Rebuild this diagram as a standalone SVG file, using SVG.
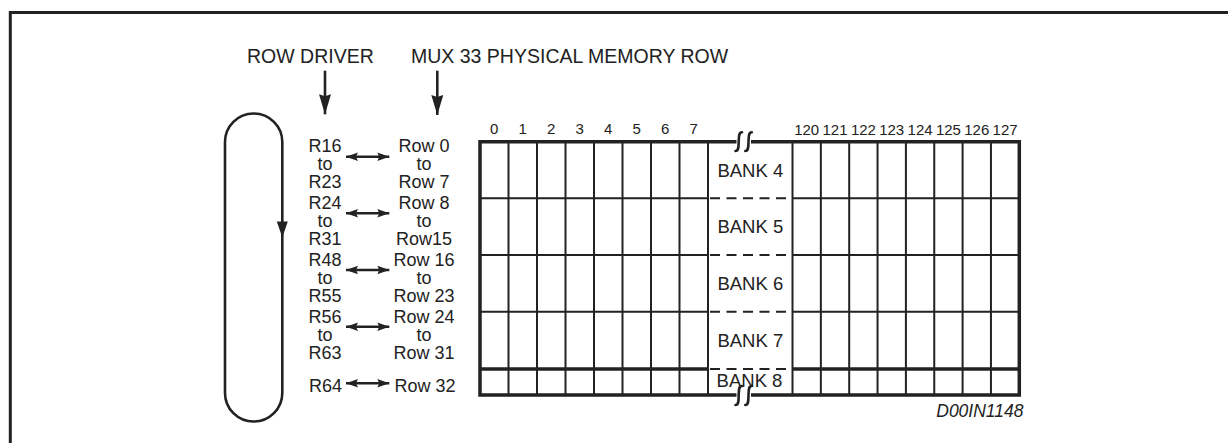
<svg xmlns="http://www.w3.org/2000/svg" width="1228" height="443" viewBox="0 0 1228 443">
<style>
text{font-family:"Liberation Sans",Arial,sans-serif;fill:#222}
.t{font-size:19.5px}
.r{font-size:18px;text-anchor:middle}
.n{font-size:15px;text-anchor:middle}
.b{font-size:18.5px;text-anchor:middle}
.id{font-size:17.5px;font-style:italic;text-anchor:end}
.ln{stroke:#222;fill:none}
.g{stroke:#222;stroke-width:2;fill:none}
.k{stroke:#222;stroke-width:3.5;fill:none}
.d{stroke:#222;stroke-width:2;fill:none;stroke-dasharray:10 6.5}
.brk{stroke:#222;stroke-width:2.6;fill:none;stroke-linecap:round}
</style>
<defs>
<marker id="dh" markerUnits="userSpaceOnUse" markerWidth="13" markerHeight="9" refX="12" refY="4.25" orient="auto-start-reverse">
<path d="M0,0 L12,4.25 L0,8.5 L2,4.25 z" fill="#222"/>
</marker>
<marker id="ah" markerUnits="userSpaceOnUse" markerWidth="21" markerHeight="12" refX="20" refY="6" orient="auto">
<path d="M0,0 L20,6 L0,12 L2,6 z" fill="#222"/>
</marker>
</defs>
<g id="frame">
<path class="ln" stroke-width="3" d="M10.3,443 V12.5 H1228"/>
</g>
<g id="title-row-driver">
<text class="t" x="247" y="63.3">ROW DRIVER</text>
</g>
<g id="title-mux">
<text class="t" x="411" y="63.3">MUX 33 PHYSICAL MEMORY ROW</text>
</g>
<g id="loop">
<rect x="225" y="113.5" width="57.3" height="308" rx="28.6" ry="28.6" class="ln" stroke-width="2.6"/>
<polygon points="276.8,221.5 287.8,221.5 282.3,237.5" fill="#222"/>
</g>
<g id="row-driver-labels">
<text class="r" x="325" y="152.3">R16</text>
<text class="r" x="325" y="170.3">to</text>
<text class="r" x="325" y="188.3">R23</text>
<text class="r" x="325" y="209">R24</text>
<text class="r" x="325" y="227">to</text>
<text class="r" x="325" y="245">R31</text>
<text class="r" x="325" y="265.7">R48</text>
<text class="r" x="325" y="283.7">to</text>
<text class="r" x="325" y="301.7">R55</text>
<text class="r" x="325" y="322.7">R56</text>
<text class="r" x="325" y="340.7">to</text>
<text class="r" x="325" y="358.7">R63</text>
<text class="r" x="325.5" y="392.3">R64</text>
</g>
<g id="memory-row-labels">
<text class="r" x="424" y="152.3">Row 0</text>
<text class="r" x="424" y="170.3">to</text>
<text class="r" x="424" y="188.3">Row 7</text>
<text class="r" x="424" y="209">Row 8</text>
<text class="r" x="424" y="227">to</text>
<text class="r" x="424" y="245">Row15</text>
<text class="r" x="424" y="265.7">Row 16</text>
<text class="r" x="424" y="283.7">to</text>
<text class="r" x="424" y="301.7">Row 23</text>
<text class="r" x="424" y="322.7">Row 24</text>
<text class="r" x="424" y="340.7">to</text>
<text class="r" x="424" y="358.7">Row 31</text>
<text class="r" x="425" y="392.3">Row 32</text>
</g>
<g id="connectors">
<line class="ln" stroke-width="2.6" x1="325" y1="70.7" x2="325" y2="114.3" marker-end="url(#ah)"/>
<line class="ln" stroke-width="2.6" x1="437.3" y1="70.7" x2="437.3" y2="115" marker-end="url(#ah)"/>
<line class="ln" stroke-width="2.4" x1="346" y1="156.7" x2="389.3" y2="156.7" marker-start="url(#dh)" marker-end="url(#dh)"/>
<line class="ln" stroke-width="2.4" x1="346" y1="213.3" x2="389.3" y2="213.3" marker-start="url(#dh)" marker-end="url(#dh)"/>
<line class="ln" stroke-width="2.4" x1="346" y1="270" x2="389.3" y2="270" marker-start="url(#dh)" marker-end="url(#dh)"/>
<line class="ln" stroke-width="2.4" x1="346" y1="326.7" x2="389.3" y2="326.7" marker-start="url(#dh)" marker-end="url(#dh)"/>
<line class="ln" stroke-width="2.4" x1="346" y1="383.3" x2="389.3" y2="383.3" marker-start="url(#dh)" marker-end="url(#dh)"/>
</g>
<g id="column-numbers">
<text class="n" x="494.25" y="134">0</text>
<text class="n" x="522.75" y="134">1</text>
<text class="n" x="551.25" y="134">2</text>
<text class="n" x="579.75" y="134">3</text>
<text class="n" x="608.25" y="134">4</text>
<text class="n" x="636.75" y="134">5</text>
<text class="n" x="665.25" y="134">6</text>
<text class="n" x="693.75" y="134">7</text>
<text class="n" x="806.7" y="134.5">120</text>
<text class="n" x="835" y="134.5">121</text>
<text class="n" x="863.4" y="134.5">122</text>
<text class="n" x="891.7" y="134.5">123</text>
<text class="n" x="920.1" y="134.5">124</text>
<text class="n" x="948.4" y="134.5">125</text>
<text class="n" x="976.8" y="134.5">126</text>
<text class="n" x="1005.1" y="134.5">127</text>
</g>
<g id="memory-array">
<path class="g" d="M508.5,141.7V395 M537,141.7V395 M565.5,141.7V395 M594,141.7V395 M622.5,141.7V395 M651,141.7V395 M679.5,141.7V395 M708,141.7V395 M792.5,141.7V395 M820.85,141.7V395 M849.2,141.7V395 M877.55,141.7V395 M905.9,141.7V395 M934.25,141.7V395 M962.6,141.7V395 M990.95,141.7V395"/>
<path class="g" d="M480,198.3H708 M792.5,198.3H1019.3 M480,255H708 M792.5,255H1019.3 M480,311.7H708 M792.5,311.7H1019.3"/>
<path class="d" d="M710,198.3H792.5 M710,255H792.5 M710,311.7H792.5 M710,369H792.5"/>
<path class="k" d="M480,369H708 M792.5,369H1019.3"/>
<path class="k" d="M736.5,141.7H480V395H736.5 M751,141.7H1019.3V395H751"/>
<path class="brk" d="M735.5,151 C739,151 738.5,146 738.7,141.7 C739,137 738.5,132.3 742,132.3 M745.3,151 C748.8,151 748.3,146 748.5,141.7 C748.8,137 748.3,132.3 751.8,132.3"/>
<path class="brk" d="M735.5,405 C739,405 738.5,400 738.7,395 C739,390 738.5,386 742,386 M745.3,405 C748.8,405 748.3,400 748.5,395 C748.8,390 748.3,386 751.8,386"/>
</g>
<g id="bank-labels">
<text class="b" x="750.3" y="176.7">BANK 4</text>
<text class="b" x="750.3" y="233.3">BANK 5</text>
<text class="b" x="750.3" y="289.8">BANK 6</text>
<text class="b" x="750.3" y="346.5">BANK 7</text>
<text class="b" x="749.5" y="386.5">BANK 8</text>
</g>
<g id="figure-id">
<text class="id" x="1023.5" y="416.7">D00IN1148</text>
</g>
</svg>
